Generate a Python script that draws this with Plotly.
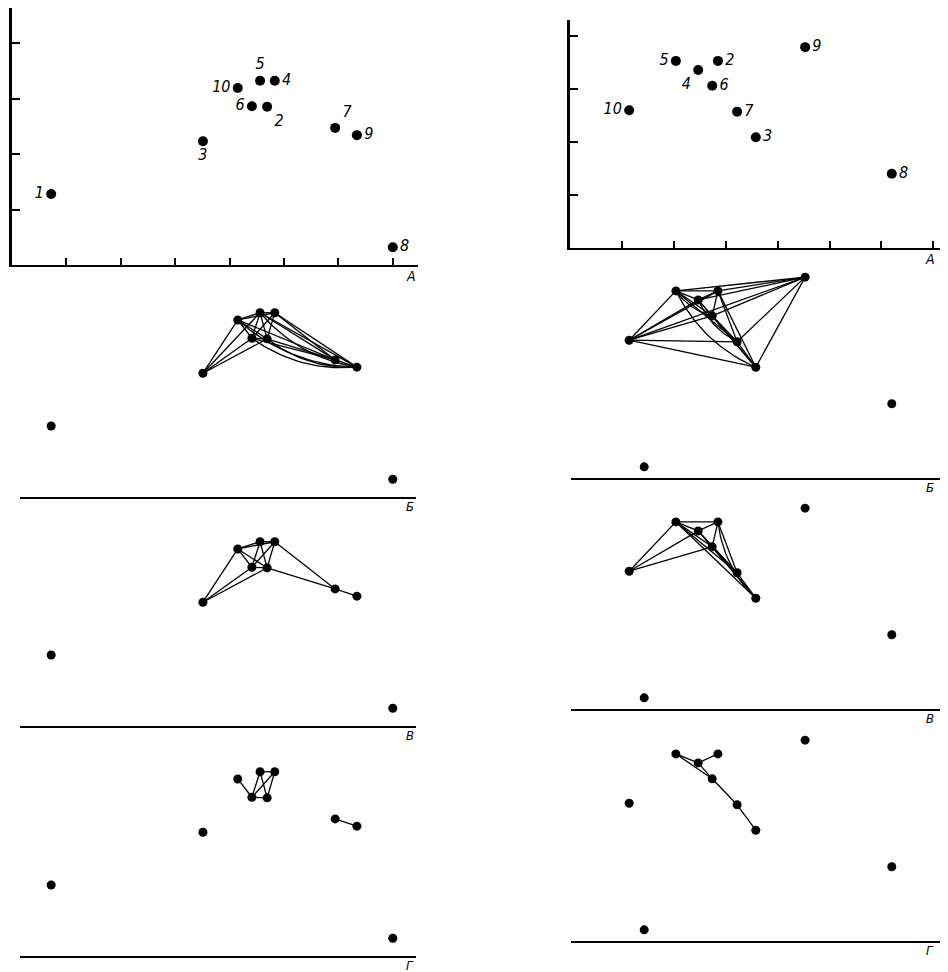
import plotly.graph_objects as go

W, H = 948, 972
OFF = 8  # default page body margin; the figure is sized/positioned to compensate

# ---------------- data ----------------
ids = ["1", "2", "3", "4", "5", "6", "7", "8", "9", "10"]
left_x = [0.72, 4.69, 3.51, 4.83, 4.56, 4.41, 5.94, 7.00, 6.34, 4.15]
left_y = [1.28, 2.85, 2.23, 3.32, 3.32, 2.86, 2.47, 0.32, 2.34, 3.19]
right_x = [1.43, 2.85, 3.58, 2.47, 2.04, 2.74, 3.22, 6.20, 4.53, 1.14]
right_y = [0.21, 3.53, 2.09, 3.36, 3.53, 3.06, 2.57, 1.40, 3.79, 2.60]
right_in_A = [False, True, True, True, True, True, True, True, True, True]

x_ticks = [1, 2, 3, 4, 5, 6, 7]
y_ticks = [1, 2, 3, 4]
panel_letters = ["A", "Б", "В", "Г"]

# edges per panel (Б, В, Г): straight and curved
left_B_straight = [("10", "5"), ("10", "4"), ("10", "6"), ("10", "2"), ("5", "4"), ("5", "6"), ("5", "2"),
                   ("4", "6"), ("4", "2"), ("6", "2"),
                   ("3", "10"), ("3", "5"), ("3", "6"), ("3", "2"),
                   ("7", "10"), ("7", "5"), ("7", "4"), ("7", "6"), ("7", "2"),
                   ("9", "5"), ("9", "4"), ("7", "9")]
left_B_curved = [("10", "9"), ("6", "9"), ("2", "9"), ("5", "9")]
left_V_straight = [("10", "5"), ("10", "4"), ("10", "6"), ("10", "2"), ("5", "4"), ("5", "6"), ("5", "2"),
                   ("4", "6"), ("4", "2"), ("6", "2"),
                   ("3", "10"), ("3", "6"), ("3", "2"),
                   ("4", "7"), ("2", "7"), ("7", "9")]
left_V_curved = []
left_G_straight = [("5", "4"), ("5", "6"), ("5", "2"), ("4", "6"), ("4", "2"), ("6", "2"),
                   ("10", "6"), ("7", "9")]
left_G_curved = []

right_B_straight = [("10", "5"), ("10", "4"), ("10", "2"), ("10", "6"), ("10", "7"), ("10", "3"), ("10", "9"),
                    ("5", "4"), ("5", "2"), ("5", "6"), ("5", "7"), ("5", "9"),
                    ("4", "2"), ("4", "6"), ("4", "3"), ("4", "9"),
                    ("2", "6"), ("2", "7"), ("2", "3"), ("2", "9"),
                    ("6", "7"), ("6", "3"), ("6", "9"),
                    ("7", "3"), ("7", "9"), ("3", "9")]
right_B_curved = [("5", "3"), ("4", "7"), ("5", "6")]
right_V_straight = [("5", "2"), ("5", "4"), ("5", "6"), ("5", "7"), ("5", "3"),
                    ("2", "4"), ("2", "6"), ("2", "7"),
                    ("4", "6"), ("4", "7"), ("4", "3"),
                    ("6", "7"), ("6", "3"), ("7", "3"),
                    ("10", "5"), ("10", "4"), ("10", "6")]
right_V_curved = [("2", "3")]
right_G_straight = [("5", "4"), ("5", "6"), ("4", "2"), ("4", "6"), ("6", "7"), ("7", "3")]
right_G_curved = []

left_label_pos = ["middle left", "bottom right", "bottom center", "middle right", "top center",
                  "middle left", "top right", "middle right", "middle right", "middle left"]
right_label_pos = ["middle left", "middle right", "middle right", "bottom left", "middle left",
                   "middle right", "middle right", "middle right", "middle right", "middle left"]

# ---------------- layout geometry (page pixels) ----------------
columns = [
    dict(xs=left_x, ys=left_y, inA=[True] * 10, labpos=left_label_pos,
         origin=12, ux=54.4, uy=55.5,
         A_x=(12, 418), A_y=(8, 265),
         low_x=(20, 416), baselines=[497, 726, 956], low_h=215, letter_shift=0,
         edges=[(left_B_straight, left_B_curved), (left_V_straight, left_V_curved),
                (left_G_straight, left_G_curved)]),
    dict(xs=right_x, ys=right_y, inA=right_in_A, labpos=right_label_pos,
         origin=570, ux=51.9, uy=53.0,
         A_x=(570, 947), A_y=(20, 248),
         low_x=(571, 946), baselines=[478, 709, 941], low_h=215, letter_shift=-10,
         edges=[(right_B_straight, right_B_curved), (right_V_straight, right_V_curved),
                (right_G_straight, right_G_curved)]),
]

FONT = "Liberation Sans Narrow, DejaVu Sans Condensed, Liberation Sans, sans-serif"
FW, FH = W - OFF, H - OFF

fig = go.Figure()
layout = dict(width=FW, height=FH, autosize=False, margin=dict(l=0, r=0, t=0, b=0),
              paper_bgcolor="white", plot_bgcolor="white", showlegend=False, annotations=[])


def xd(a, b):
    return [(a - OFF) / FW, (b - OFF) / FW]


def yd(top, bottom):
    return [1 - (bottom - OFF) / FH, 1 - (top - OFF) / FH]


def arc(p, q, k=0.18, n=24):
    (x0, y0), (x1, y1) = p, q
    mx, my = (x0 + x1) / 2, (y0 + y1) / 2
    dx, dy = x1 - x0, y1 - y0
    px, py = dy, -dx
    if py > 0:
        px, py = -px, -py
    cx, cy = mx + k * px, my + k * py
    xs, ys = [], []
    for i in range(n + 1):
        t = i / n
        xs.append((1 - t) ** 2 * x0 + 2 * (1 - t) * t * cx + t ** 2 * x1)
        ys.append((1 - t) ** 2 * y0 + 2 * (1 - t) * t * cy + t ** 2 * y1)
    return xs, ys


ax = 0
for col in columns:
    pos = {i: (x, y) for i, x, y in zip(ids, col["xs"], col["ys"])}
    o, ux, uy = col["origin"], col["ux"], col["uy"]

    # ---- panel A: scatter with axes ----
    ax += 1
    xn = "x" if ax == 1 else f"x{ax}"
    yn = "y" if ax == 1 else f"y{ax}"
    xa = "xaxis" if ax == 1 else f"xaxis{ax}"
    ya = "yaxis" if ax == 1 else f"yaxis{ax}"
    a, b = col["A_x"]
    top, bot = col["A_y"]
    layout[xa] = dict(domain=xd(a, b), range=[(a - o) / ux, (b - o) / ux], anchor=yn,
                      showline=True, linecolor="black", linewidth=2, ticks="inside", ticklen=7,
                      tickwidth=1.5, tickcolor="black", tickvals=x_ticks, showticklabels=False,
                      showgrid=False, zeroline=False, fixedrange=True)
    layout[ya] = dict(domain=yd(top, bot), range=[0, (bot - top) / uy], anchor=xn,
                      showline=True, linecolor="black", linewidth=2.5, ticks="inside", ticklen=8,
                      tickwidth=1.5, tickcolor="black", tickvals=y_ticks, showticklabels=False,
                      showgrid=False, zeroline=False, fixedrange=True)
    sel = [i for i, v in enumerate(col["inA"]) if v]
    fig.add_trace(go.Scatter(
        x=[col["xs"][i] for i in sel], y=[col["ys"][i] for i in sel],
        text=[ids[i] for i in sel], textposition=[col["labpos"][i] for i in sel],
        mode="markers+text", marker=dict(size=10, color="black"),
        textfont=dict(family=FONT, size=16, color="black", style="italic"),
        cliponaxis=False, xaxis=xn, yaxis=yn, hoverinfo="skip"))
    layout["annotations"].append(dict(
        text="A", xref=f"{xn} domain", yref=f"{yn} domain", x=1, y=0, xanchor="right",
        yanchor="top", xshift=col["letter_shift"], yshift=-1, showarrow=False,
        font=dict(family=FONT, size=14, color="black", style="italic")))

    # ---- panels Б, В, Г: network layouts ----
    for k, base in enumerate(col["baselines"]):
        ax += 1
        xn, yn = f"x{ax}", f"y{ax}"
        xa, ya = f"xaxis{ax}", f"yaxis{ax}"
        a, b = col["low_x"]
        layout[xa] = dict(domain=xd(a, b), range=[(a - o) / ux, (b - o) / ux], anchor=yn,
                          showline=True, linecolor="black", linewidth=2, ticks="",
                          showticklabels=False, showgrid=False, zeroline=False, fixedrange=True)
        layout[ya] = dict(domain=yd(base - col["low_h"], base), range=[0, col["low_h"] / uy],
                          anchor=xn, visible=False, fixedrange=True)
        straight, curved = col["edges"][k]
        ex, ey = [], []
        for p, q in straight:
            ex += [pos[p][0], pos[q][0], None]
            ey += [pos[p][1], pos[q][1], None]
        for p, q in curved:
            cx, cy = arc(pos[p], pos[q])
            ex += cx + [None]
            ey += cy + [None]
        fig.add_trace(go.Scatter(x=ex, y=ey, mode="lines", line=dict(color="black", width=1.3),
                                 xaxis=xn, yaxis=yn, hoverinfo="skip", cliponaxis=False))
        fig.add_trace(go.Scatter(x=col["xs"], y=col["ys"], mode="markers",
                                 marker=dict(size=9, color="black"), xaxis=xn, yaxis=yn,
                                 hoverinfo="skip", cliponaxis=False))
        layout["annotations"].append(dict(
            text=panel_letters[k + 1], xref=f"{xn} domain", yref=f"{yn} domain", x=1, y=0,
            xanchor="right", yanchor="top", xshift=col["letter_shift"], yshift=0,
            showarrow=False, font=dict(family=FONT, size=13, color="black", style="italic")))

fig.update_layout(**layout)
fig.write_html("out.html")
